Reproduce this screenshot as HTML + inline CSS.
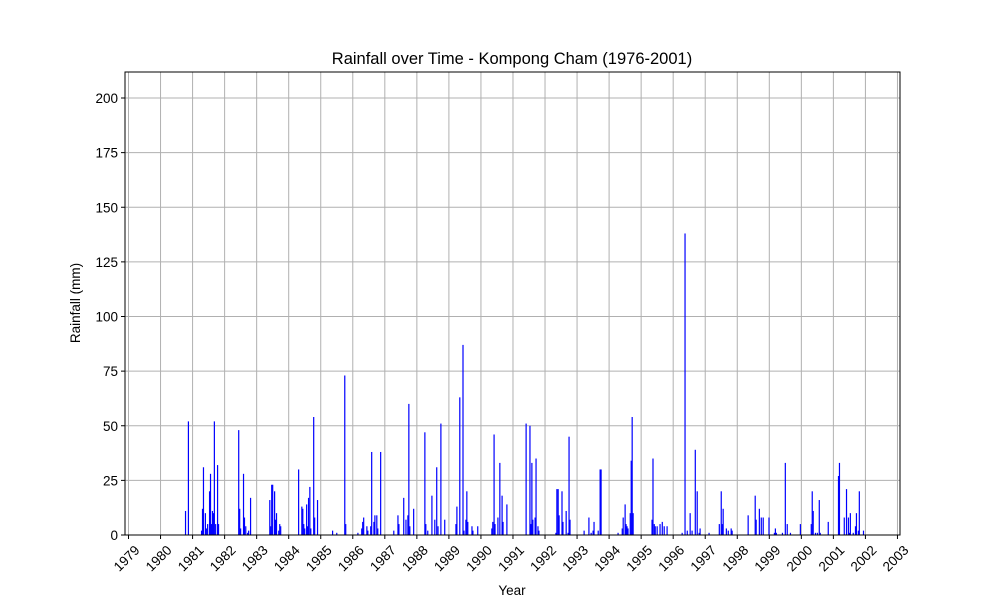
<!DOCTYPE html>
<html><head><meta charset="utf-8"><style>
html,body{margin:0;padding:0;background:#fff}
svg text{font-family:"Liberation Sans","DejaVu Sans",sans-serif;fill:#000}
</style></head><body>
<svg id="chart" width="1000" height="600" xmlns="http://www.w3.org/2000/svg">
<rect width="1000" height="600" fill="#fff"/>
<g id="grid"></g>
<g id="bars"></g>
<g id="axes"></g>
<text x="512" y="64" font-size="16.5" text-anchor="middle">Rainfall over Time - Kompong Cham (1976-2001)</text>
<text x="512" y="595" font-size="13.5" text-anchor="middle">Year</text>
<text x="0" y="0" font-size="13.5" text-anchor="middle" transform="translate(80,303) rotate(-90)">Rainfall (mm)</text>
</svg>
<script>
const dates = [1980.78,1980.87,
1981.28,1981.31,1981.34,1981.40,1981.43,1981.47,1981.53,1981.56,1981.59,1981.62,1981.65,1981.68,1981.72,1981.78,1981.81,
1982.44,1982.47,1982.50,1982.59,1982.62,1982.66,1982.72,1982.75,1982.81,
1983.41,1983.44,1983.47,1983.50,1983.56,1983.59,1983.62,1983.69,1983.72,1983.75,
1984.31,1984.41,1984.44,1984.47,1984.50,1984.56,1984.59,1984.62,1984.66,1984.69,1984.78,1984.81,1984.90,
1985.37,1985.50,1985.75,1985.78,
1986.16,1986.28,1986.31,1986.34,1986.44,1986.47,1986.56,1986.59,1986.66,1986.69,1986.75,1986.78,1986.87,
1987.28,1987.41,1987.44,1987.59,1987.66,1987.72,1987.75,1987.78,1987.90,
1988.25,1988.28,1988.34,1988.47,1988.56,1988.62,1988.66,1988.75,1988.87,
1989.22,1989.25,1989.34,1989.44,1989.47,1989.53,1989.56,1989.59,1989.72,1989.75,1989.90,
1990.34,1990.37,1990.41,1990.44,1990.53,1990.59,1990.66,1990.69,1990.81,
1991.41,1991.53,1991.56,1991.59,1991.62,1991.69,1991.72,1991.78,1991.81,
1992.34,1992.37,1992.41,1992.44,1992.53,1992.56,1992.66,1992.72,1992.75,1992.78,
1993.22,1993.37,1993.44,1993.50,1993.53,1993.66,1993.72,1993.75,
1994.28,1994.41,1994.44,1994.50,1994.53,1994.56,1994.59,1994.66,1994.69,1994.72,1994.75,
1995.34,1995.37,1995.41,1995.44,1995.50,1995.59,1995.66,1995.72,1995.81,
1996.28,1996.37,1996.44,1996.53,1996.59,1996.69,1996.75,1996.81,1996.84,
1997.12,1997.44,1997.50,1997.53,1997.56,1997.66,1997.72,1997.81,1997.84,
1998.34,1998.56,1998.59,1998.69,1998.75,1998.81,1998.99,1999.16,1999.19,1999.22,1999.41,1999.50,1999.56,1999.66,1999.97,
2000.31,2000.34,2000.37,2000.44,2000.50,2000.56,2000.59,2000.84,
2001.16,2001.19,2001.34,2001.41,2001.47,2001.50,2001.53,2001.62,2001.69,2001.72,2001.78,2001.81,2001.94];
const rainfall = [11,52,
2,12,31,10,3,5,20,28,5,11,10,52,5,32,5,
48,12,3,28,8,4,1,2,17,
16,4,23,23,20,7,10,2,5,4,
30,13,12,5,3,14,4,17,22,3,54,8,16,
2,1,73,5,
1,3,6,8,4,2,4,38,6,9,9,3,38,
2,9,5,17,7,9,60,4,12,
47,5,2,18,7,31,4,51,7,
5,13,63,87,2,7,20,6,4,2,4,
3,6,46,5,8,33,18,6,14,
51,50,5,33,7,8,35,4,2,
1,21,21,9,20,6,11,1,45,7,
2,8,1,2,6,2,30,30,
1,3,8,14,5,4,3,10,34,54,10,
7,35,5,4,4,5,6,4,4,
1,138,2,10,2,39,20,1,3,
1,5,20,5,12,3,2,3,2,
9,18,7,12,8,8,8,1,3,1,1,33,5,1,5,
5,20,11,1,1,16,1,6,
27,33,8,21,8,1,10,1,4,10,2,20,2];
const yTicks = [0,25,50,75,100,125,150,175,200];
const xTicks = [1979,1980,1981,1982,1983,1984,1985,1986,1987,1988,1989,1990,1991,1992,1993,1994,1995,1996,1997,1998,1999,2000,2001,2002,2003];

const L=125,R=900,T=72,B=535;
const X = y => 128.5 + (y-1979)*32.04;
const Y = v => B - v*(B-98)/200;
const NS="http://www.w3.org/2000/svg";
function mk(tag,attrs,parent){const e=document.createElementNS(NS,tag);for(const k in attrs)e.setAttribute(k,attrs[k]);parent.appendChild(e);return e;}
const grid=document.getElementById('grid'),bars=document.getElementById('bars'),axes=document.getElementById('axes');
yTicks.forEach(t=>{
  const l=mk('line',{x1:L,x2:R,y1:Y(t),y2:Y(t),stroke:'#b0b0b0','stroke-width':1},grid);
  
  
  const tk=mk('line',{x1:L-4,x2:L,y1:Y(t),y2:Y(t),stroke:'#000'},axes);
  
  
  const tx=mk('text',{x:L-7,y:Y(t)+5,'font-size':13.5,'text-anchor':'end'},axes);
  tx.textContent=t;
  
  
});
xTicks.forEach(t=>{
  const x=X(t);
  const l=mk('line',{x1:x,x2:x,y1:T,y2:B,stroke:'#b0b0b0','stroke-width':1},grid);
  
  
  const tk=mk('line',{x1:x,x2:x,y1:B,y2:B+4,stroke:'#000'},axes);
  
  
  const tx=mk('text',{x:0,y:0,'font-size':13.5,'text-anchor':'end',transform:`translate(${x+12},${B+16}) rotate(-45)`},axes);
  tx.textContent=t;
  
  
});
dates.forEach((d,i)=>{
  const v=rainfall[i];
  const r=mk('rect',{x:X(d)-0.6,y:Y(v),width:1.2,height:B-Y(v),fill:'#0000ff'},bars);
  
  
});
const fr=mk('rect',{x:L,y:T,width:R-L,height:B-T,fill:'none',stroke:'#000','stroke-width':1},axes);


</script>
</body></html>
